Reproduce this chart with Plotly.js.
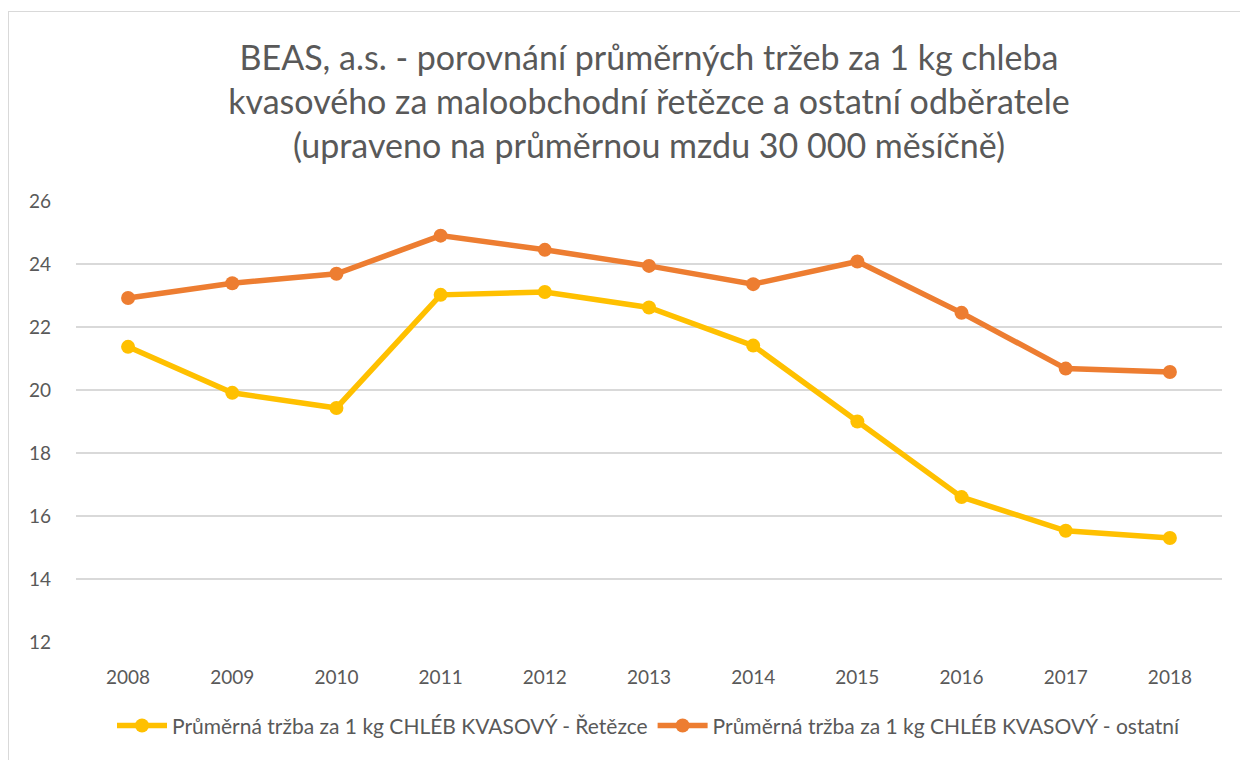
<!DOCTYPE html>
<html>
<head>
<meta charset="utf-8">
<script src="https://cdn.plot.ly/plotly-3.0.1.min.js"></script>
<style>
html,body{margin:0;padding:0;background:#fff;overflow:hidden;}
#chart{width:1240px;height:760px;position:absolute;left:0;top:0;}
#frame{position:absolute;left:8px;top:11px;width:1300px;height:800px;border-left:1px solid #d9d9d9;border-top:1px solid #d9d9d9;pointer-events:none;}
</style>
</head>
<body>
<div id="chart"></div>
<div id="frame"></div>
<script>
const years = ['2008','2009','2010','2011','2012','2013','2014','2015','2016','2017','2018'];
const retezce = [21.37, 19.91, 19.43, 23.02, 23.11, 22.62, 21.41, 19.0, 16.6, 15.53, 15.3];
const ostatni = [22.92, 23.39, 23.69, 24.9, 24.45, 23.94, 23.36, 24.08, 22.45, 20.68, 20.57];
const seriesNames = [
  'Průměrná tržba za 1 kg CHLÉB KVASOVÝ - Řetězce',
  'Průměrná tržba za 1 kg CHLÉB KVASOVÝ - ostatní'
];
const titleText = 'BEAS, a.s. - porovnání průměrných tržeb za 1 kg chleba<br>kvasového za maloobchodní řetězce a ostatní odběratele<br>(upraveno na průměrnou mzdu 30 000 měsíčně)';
const yTicks = [12, 14, 16, 18, 20, 22, 24, 26];

const font = 'Lato, "Open Sans", sans-serif';
const traces = [
  {x: years, y: retezce, name: seriesNames[0], type: 'scatter', mode: 'lines+markers',
   line: {color: '#FFC000', width: 5.5}, marker: {color: '#FFC000', size: 14}},
  {x: years, y: ostatni, name: seriesNames[1], type: 'scatter', mode: 'lines+markers',
   line: {color: '#ED7D31', width: 5.5}, marker: {color: '#ED7D31', size: 14}}
];
const layout = {
  width: 1240, height: 760,
  margin: {l: 76, r: 18, t: 201, b: 118},
  paper_bgcolor: '#fff', plot_bgcolor: '#fff',
  font: {family: font, color: '#595959', size: 18},
  title: {text: titleText, font: {family: font, size: 34, color: '#595959'},
          x: 0.5, xanchor: 'center', xref: 'paper', y: 1 - 70/760, yanchor: 'top', yref: 'container'},
  xaxis: {type: 'category', range: [-0.5, 10.5], showgrid: false, zeroline: false,
          showline: false, ticks: '', ticklabelstandoff: 22,
          tickfont: {size: 19, color: '#595959'}, fixedrange: true},
  yaxis: {range: [12, 26], tickvals: yTicks, showgrid: true, gridcolor: '#d9d9d9', gridwidth: 1.3,
          zeroline: false, showline: false, ticks: '', ticklabelstandoff: 24,
          tickfont: {size: 19, color: '#595959'}, fixedrange: true},
  showlegend: true,
  legend: {orientation: 'h', x: 0.5, xanchor: 'center', y: -0.19, yanchor: 'middle',
           font: {size: 21, color: '#595959'}, itemwidth: 50, traceorder: 'normal'},
  hovermode: false
};
Plotly.newPlot('chart', traces, layout, {displayModeBar: false, staticPlot: true});
</script>
</body>
</html>
